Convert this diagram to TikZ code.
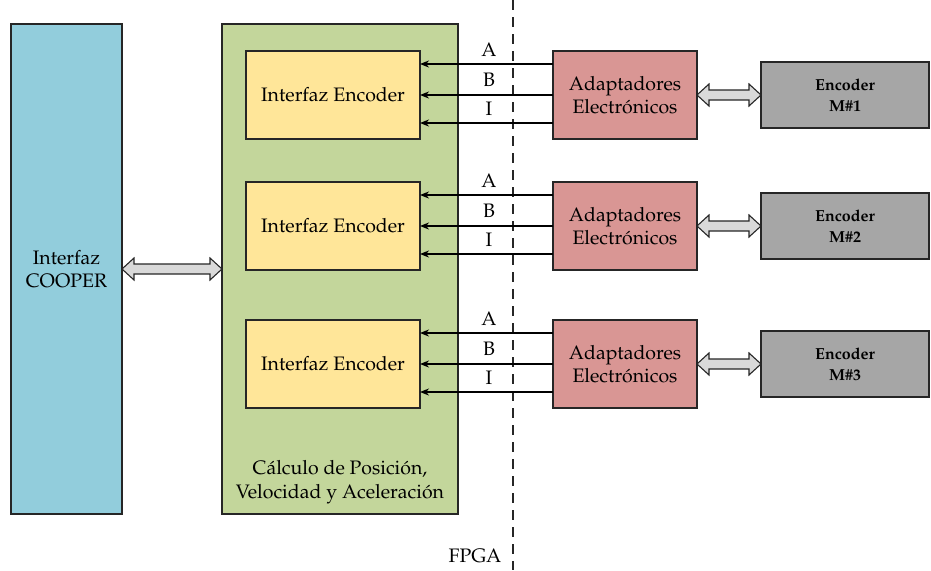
\documentclass[tikz,border=0pt]{standalone}
\usepackage[T1]{fontenc}
\usepackage{mathpazo}
\usetikzlibrary{arrows.meta,calc}

\definecolor{cooperblue}{RGB}{146,205,220}
\definecolor{calcgreen}{RGB}{195,214,155}
\definecolor{encyellow}{RGB}{255,230,153}
\definecolor{adapred}{RGB}{217,150,148}
\definecolor{motorgray}{RGB}{166,166,166}
\definecolor{arrowgray}{RGB}{217,217,217}
\definecolor{edge}{RGB}{38,38,38}

\tikzset{
  block/.style={draw=edge, line width=1.5pt, inner sep=0pt, outer sep=0pt,
    font=\fontsize{19.5}{23.5}\selectfont, align=center},
  sig/.style={line width=1.8pt, -{Stealth[length=9pt,width=7pt]}},
  siglabel/.style={font=\fontsize{19.5}{22}\selectfont},
  fatarr/.style={draw=edge, line width=1.1pt, fill=arrowgray, line join=miter},
}

% wide double-headed arrow between the east side of #1 and the west side of #2
\newcommand\fatarrow[2]{%
  \draw[fatarr] let \p1=(#1.east), \p2=(#2.west) in
    (\x1,\y1) -- (\x1+12pt,\y1+11pt) -- (\x1+12pt,\y1+5pt) -- (\x2-12pt,\y2+5pt)
    -- (\x2-12pt,\y2+11pt) -- (\x2,\y2) -- (\x2-12pt,\y2-11pt) -- (\x2-12pt,\y2-5pt)
    -- (\x1+12pt,\y1-5pt) -- (\x1+12pt,\y1-11pt) -- cycle;}

\begin{document}
\begin{tikzpicture}[x=1pt,y=-1pt]
\useasboundingbox (0,0) rectangle (931,570);

% FPGA boundary
\coordinate (fpgatop) at (513,0);
\coordinate (fpgabot) at (513,570);
\draw[edge, line width=1.6pt, dash pattern=on 10pt off 7pt] (fpgatop) -- (fpgabot);
\node[font=\fontsize{19.5}{22}\selectfont, anchor=center] (fpga) at (475,556) {FPGA};

% main blocks
\node[block, fill=cooperblue, minimum width=111pt, minimum height=490pt] (cooper) at (66.5,269) {Interfaz\\COOPER};
\node[block, fill=calcgreen, minimum width=236pt, minimum height=490pt] (calc) at (340,269) {};
\node[font=\fontsize{19.5}{24}\selectfont, align=center] (calctext) at (340,482) {C\'alculo de Posici\'on,\\Velocidad y Aceleraci\'on};

\fatarrow{cooper}{calc}

% three encoder channels
\foreach \i/\yc in {1/95, 2/226, 3/364}{
  \node[block, fill=encyellow, minimum width=174pt, minimum height=88pt] (ie\i) at (333,\yc) {Interfaz Encoder};
  \node[block, fill=adapred, minimum width=144pt, minimum height=88pt] (ad\i) at (625,\yc) {Adaptadores\\Electr\'onicos};
  \node[block, fill=motorgray, minimum width=168pt, minimum height=66pt,
        font=\fontsize{16}{21}\selectfont\bfseries] (enc\i) at (845,\yc) {Encoder\\M\#\i};
  \fatarrow{ad\i}{enc\i}
  \draw[sig] ([yshift=31pt]ad\i.west) -- ([yshift=31pt]ie\i.east);
  \draw[sig] (ad\i.west) -- (ie\i.east);
  \draw[sig] ([yshift=-28pt]ad\i.west) -- ([yshift=-28pt]ie\i.east);
  \node[siglabel] (la\i) at (489,\yc-45) {A};
  \node[siglabel] (lb\i) at (489,\yc-15) {B};
  \node[siglabel] (li\i) at (489,\yc+13.5) {I};
}
\end{tikzpicture}
\end{document}
